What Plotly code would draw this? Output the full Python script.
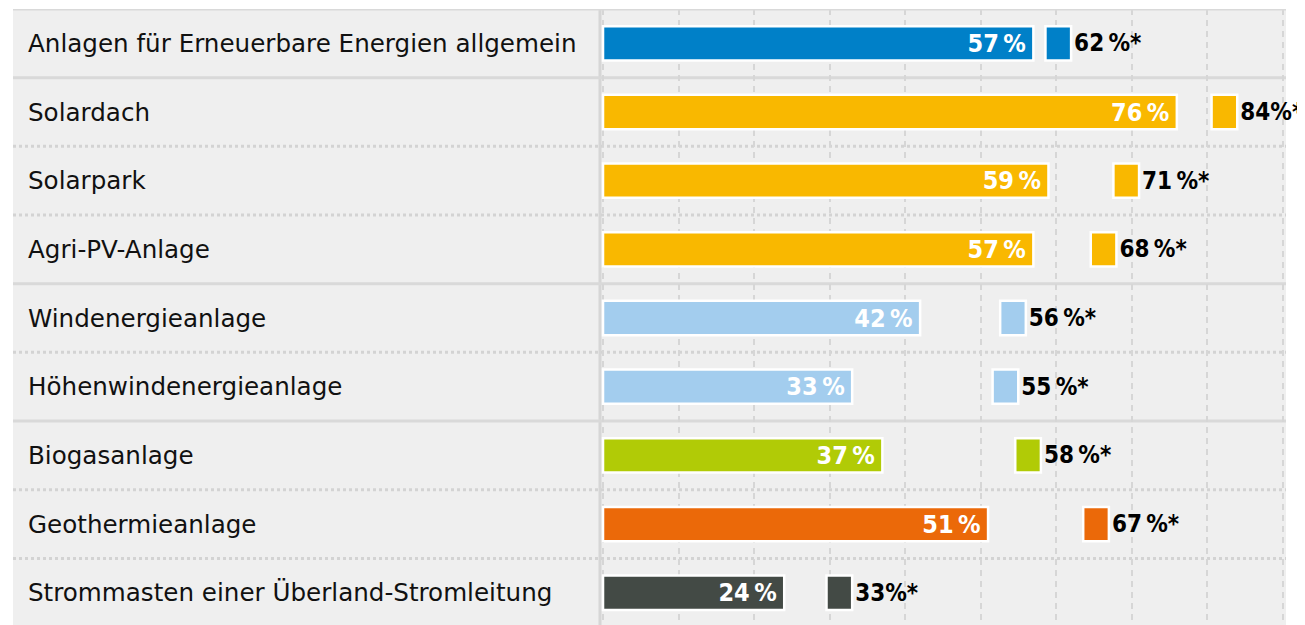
import plotly.graph_objects as go

# Data.
categories = [
    "Anlagen für Erneuerbare Energien allgemein",
    "Solardach",
    "Solarpark",
    "Agri-PV-Anlage",
    "Windenergieanlage",
    "Höhenwindenergieanlage",
    "Biogasanlage",
    "Geothermieanlage",
    "Strommasten einer Überland-Stromleitung",
]
values = [57, 76, 59, 57, 42, 33, 37, 51, 24]
values_star = [62, 84, 71, 68, 56, 55, 58, 67, 33]
bar_labels = ["57\u2009%", "76\u2009%", "59\u2009%", "57\u2009%", "42\u2009%",
              "33\u2009%", "37\u2009%", "51\u2009%", "24\u2009%"]
star_labels = ["62\u2009%*", "84%*", "71\u2009%*", "68\u2009%*", "56\u2009%*",
               "55\u2009%*", "58\u2009%*", "67\u2009%*", "33%*"]
colors = ["#0080c8", "#f9b800", "#f9b800", "#f9b800", "#a3cdee",
          "#a3cdee", "#b1cb06", "#eb6909", "#434a45"]
# row separators: solid between groups, dotted inside a group
separators = ["solid", "dot", "dot", "solid", "dot", "solid", "dot", "dot"]

square_w = 3.4
rows = list(range(len(categories)))

fig = go.Figure()

fig.add_trace(go.Bar(
    y=rows, x=values, orientation="h", width=0.5,
    marker=dict(color=colors, line=dict(color="white", width=2.5)),
    text=[t + "\u2009" for t in bar_labels], textposition="inside",
    insidetextanchor="end", constraintext="none",
    textfont=dict(family="DejaVu Sans Condensed", size=25, color="white", weight="bold"),
    hoverinfo="skip",
))

fig.add_trace(go.Bar(
    y=rows, x=[square_w] * len(rows), base=[v - square_w for v in values_star],
    orientation="h", width=0.5,
    marker=dict(color=colors, line=dict(color="white", width=2.5)),
    text=star_labels, textposition="outside", constraintext="none",
    textfont=dict(family="DejaVu Sans Condensed", size=24, color="black", weight="bold"),
    cliponaxis=False, hoverinfo="skip",
))

# Category labels, left aligned in the grey label column
for i, name in enumerate(categories):
    fig.add_annotation(
        x=-0.8366, xref="paper", y=i, yref="y", text=name, showarrow=False,
        xanchor="left", yanchor="middle",
        font=dict(family="DejaVu Sans", size=24.6, color="#111111"),
    )

left = -0.8557
shapes = [
    # grey label column
    dict(type="rect", xref="paper", yref="paper", x0=left, x1=0, y0=0, y1=1,
         fillcolor="#efefef", line_width=0, layer="below"),
    # top rule
    dict(type="line", xref="paper", yref="y", x0=left, x1=1, y0=-0.5, y1=-0.5,
         line=dict(color="#d9d9d9", width=3)),
    # divider between labels and bars
    dict(type="line", xref="paper", yref="paper", x0=0, x1=0, y0=0, y1=1,
         line=dict(color="#d6d6d6", width=3), layer="below"),
]
for i, style in enumerate(separators):
    shapes.append(dict(
        type="line", xref="paper", yref="y", x0=left, x1=1, y0=i + 0.5, y1=i + 0.5,
        line=dict(color="#d9d9d9" if style == "solid" else "#d3d3d3",
                  width=3, dash="solid" if style == "solid" else "3px,3px"),
        layer="below",
    ))

fig.update_layout(
    width=1297, height=617,
    margin=dict(l=592, r=19, t=1, b=0),
    paper_bgcolor="white", plot_bgcolor="#efefef",
    barmode="overlay", showlegend=False,
    shapes=shapes,
    xaxis=dict(range=[-0.4, 90.46], dtick=10, showticklabels=False,
               showgrid=True, gridcolor="#d6d6d6", gridwidth=2, griddash="6px,5px",
               zeroline=False, fixedrange=True),
    yaxis=dict(range=[8.47, -0.5], showticklabels=False, showgrid=False,
               zeroline=False, fixedrange=True),
)

fig.write_html("out.html")
